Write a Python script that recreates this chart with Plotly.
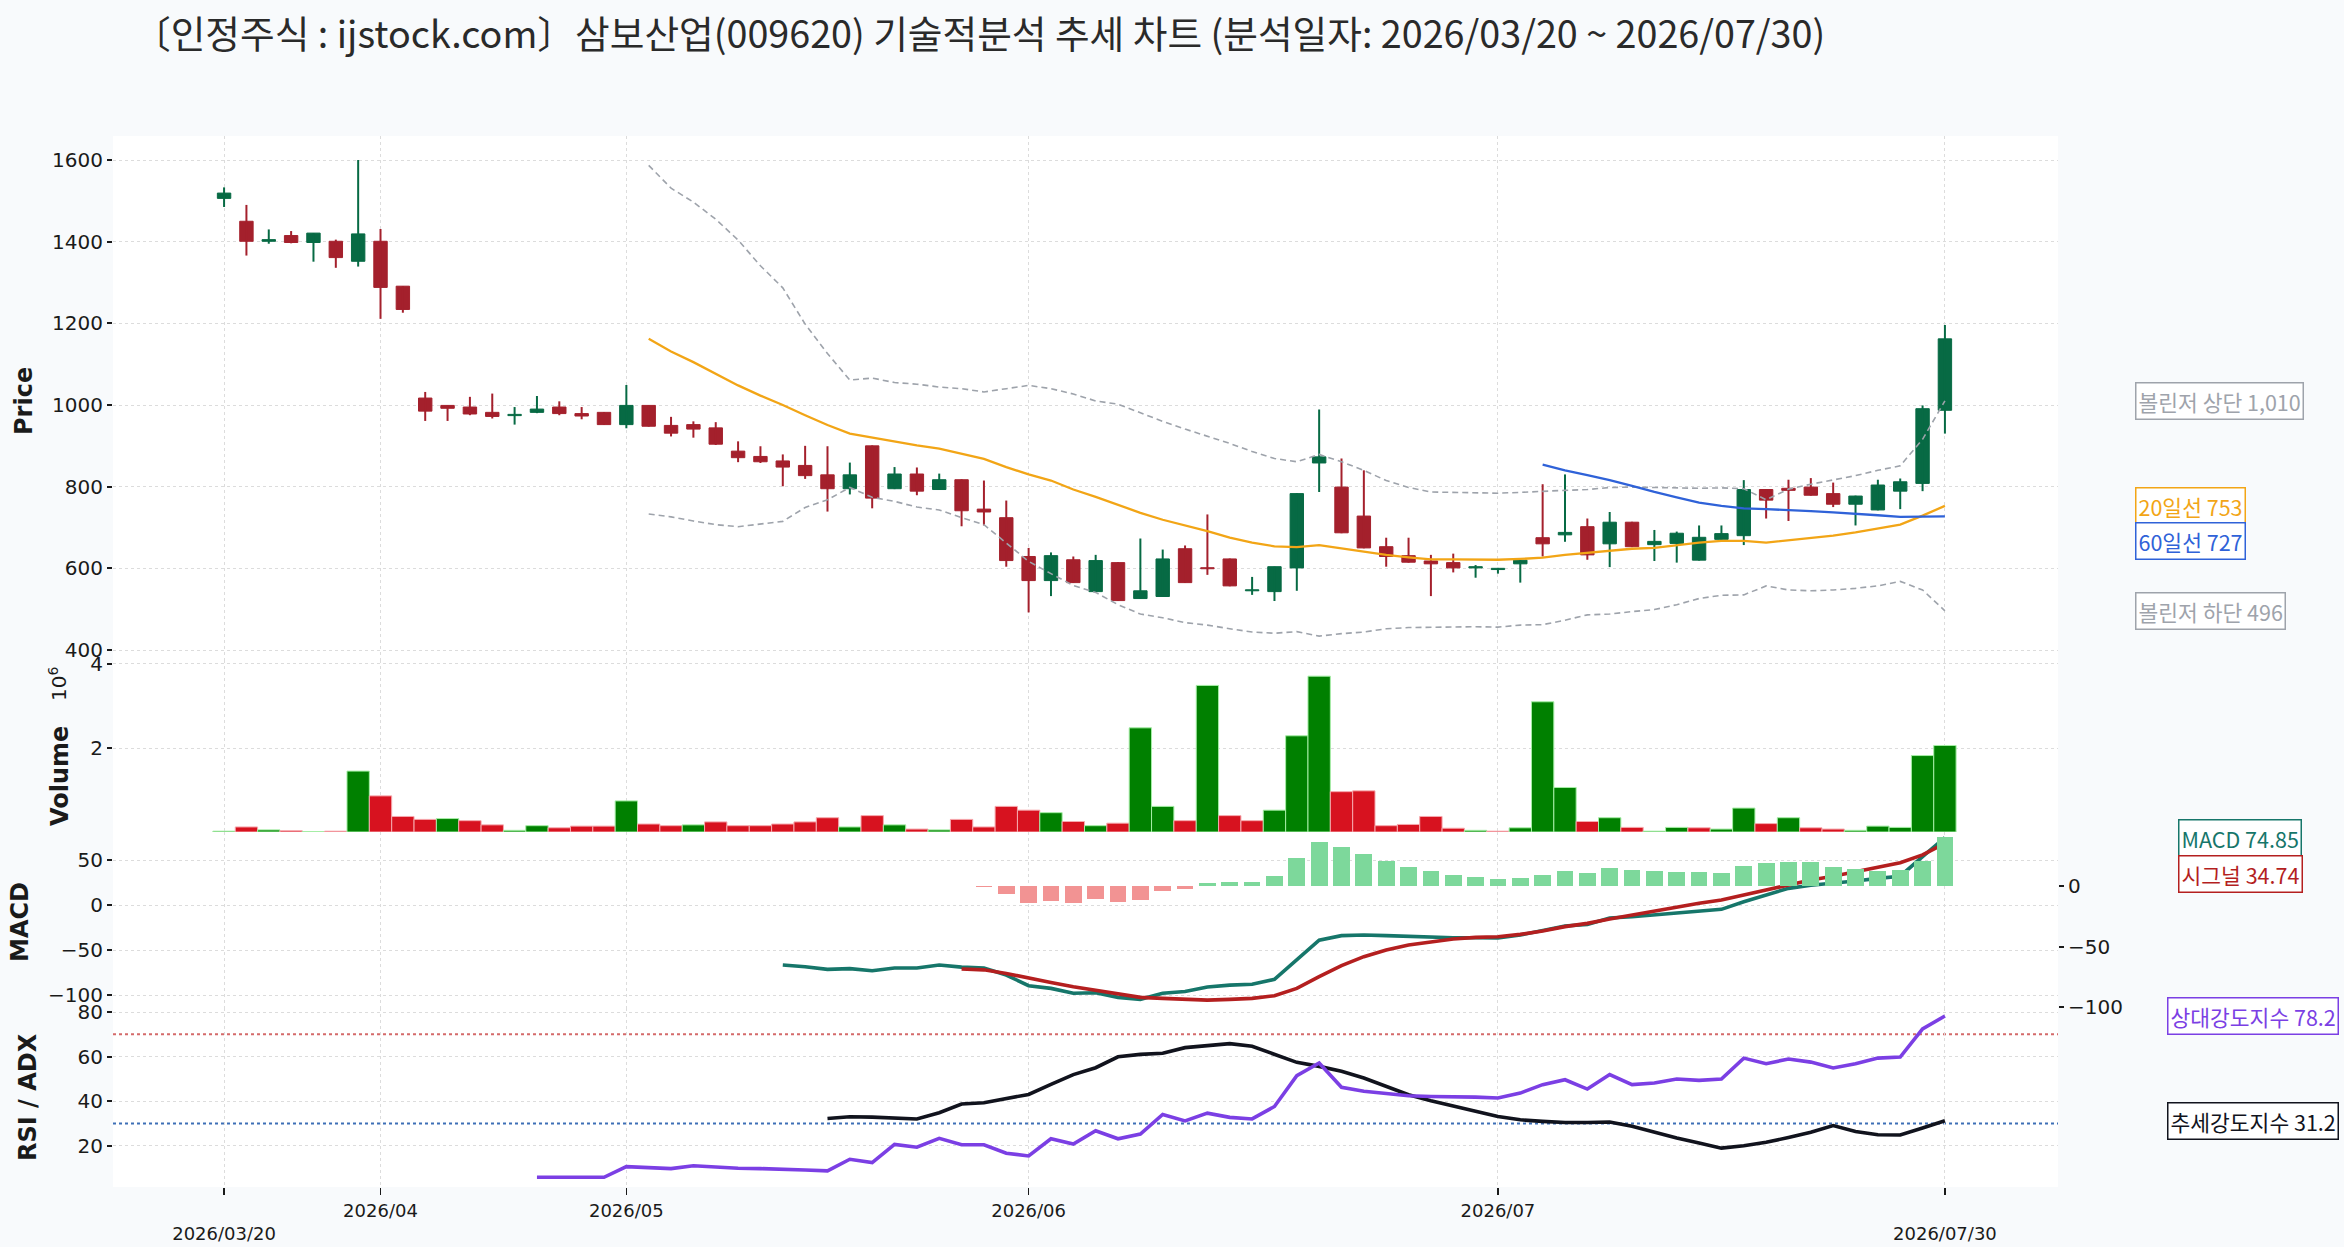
import plotly.graph_objects as go

W, H = 2344, 1247

TITLE = "〔인정주식 : ijstock.com〕삼보산업(009620) 기술적분석 추세 차트 (분석일자: 2026/03/20 ~ 2026/07/30)"

# ---- daily OHLC (trading-day index 0..77) ----
OPEN = [1506, 1450, 1401, 1415, 1398, 1401, 1352, 1401, 1291, 1017,
        999, 995, 982, 974, 982, 995, 979, 982, 952, 999,
        950, 952, 944, 887, 874, 863, 852, 829, 795, 900,
        795, 831, 793, 817, 745, 724, 629, 570, 621, 543,
        614, 526, 531, 648, 600, 623, 545, 543, 601, 858,
        799, 728, 653, 631, 618, 614, 601, 597, 611, 675,
        682, 702, 660, 713, 658, 661, 620, 671, 680, 793,
        796, 799, 783, 757, 743, 789, 808, 987]
HIGH = [1533, 1490, 1430, 1426, 1421, 1405, 1600, 1431, 1291, 1032,
        999, 1020, 1028, 995, 1022, 1009, 995, 983, 1049, 999,
        971, 960, 958, 911, 899, 879, 900, 899, 859, 901,
        848, 847, 832, 818, 815, 766, 650, 639, 629, 633,
        615, 673, 646, 656, 732, 624, 579, 604, 784, 989,
        869, 840, 675, 675, 633, 636, 608, 601, 621, 806,
        830, 722, 738, 714, 694, 690, 705, 705, 816, 794,
        817, 821, 810, 778, 817, 820, 999, 1196]
LOW = [1485, 1366, 1395, 1396, 1351, 1336, 1339, 1211, 1226, 961,
       961, 975, 967, 952, 980, 975, 965, 951, 943, 947,
       923, 920, 902, 860, 858, 801, 819, 739, 781, 747,
       794, 779, 792, 703, 705, 604, 492, 532, 564, 542,
       520, 525, 530, 564, 584, 556, 535, 520, 545, 787,
       686, 649, 604, 614, 532, 590, 577, 587, 565, 629,
       665, 621, 603, 652, 618, 614, 619, 670, 657, 722,
       716, 778, 750, 705, 742, 745, 789, 930]
CLOSE = [1519, 1401, 1405, 1398, 1421, 1361, 1419, 1288, 1234, 985,
         992, 978, 972, 977, 990, 979, 973, 952, 999, 948,
         931, 941, 904, 871, 861, 848, 827, 795, 829, 772,
         831, 789, 817, 741, 738, 619, 570, 631, 565, 619,
         521, 545, 623, 565, 599, 557, 546, 604, 783, 873,
         687, 650, 629, 615, 611, 601, 604, 600, 620, 660,
         688, 633, 713, 653, 666, 686, 676, 685, 793, 767,
         791, 779, 757, 777, 804, 812, 991, 1162]
VOLUME_M = [0.02, 0.12, 0.05, 0.03, 0.01, 0.02, 1.45, 0.86, 0.37, 0.30,
            0.32, 0.27, 0.17, 0.04, 0.15, 0.10, 0.14, 0.14, 0.74, 0.19,
            0.15, 0.17, 0.24, 0.15, 0.15, 0.19, 0.24, 0.34, 0.12, 0.39,
            0.17, 0.07, 0.05, 0.30, 0.12, 0.61, 0.52, 0.46, 0.25, 0.15,
            0.21, 2.48, 0.61, 0.27, 3.49, 0.39, 0.27, 0.52, 2.29, 3.71,
            0.96, 0.98, 0.15, 0.18, 0.37, 0.09, 0.04, 0.02, 0.10, 3.10,
            1.06, 0.25, 0.34, 0.11, 0.02, 0.11, 0.10, 0.07, 0.57, 0.20,
            0.34, 0.10, 0.07, 0.04, 0.14, 0.11, 1.82, 2.06]

# ---- indicators (each starts at its own index) ----
MA20_START = 19
MA20 = [1162, 1131, 1105, 1076, 1048, 1023, 1000, 975, 951, 930,
        920, 911, 901, 893, 880, 868, 848, 830, 815, 793,
        775, 756, 736, 719, 705, 691, 675, 663, 654, 652,
        657, 649, 641, 633, 627, 622, 622, 622, 621, 623,
        626, 633, 638, 643, 648, 650, 656, 663, 667, 667,
        663, 669, 674, 680, 688, 697, 707, 729, 753]
MA60_START = 59
MA60 = [854, 840, 828, 816, 802, 787, 774, 761, 753, 747,
        745, 743, 740, 737, 734, 730, 726, 727, 727]
BB_START = 19
BB_UPPER = [1587, 1531, 1497, 1455, 1404, 1341, 1287, 1198, 1126, 1061,
            1066, 1055, 1051, 1044, 1040, 1032, 1040, 1048, 1040, 1027,
            1010, 1002, 981, 960, 941, 924, 906, 886, 869, 861,
            879, 861, 840, 815, 798, 787, 786, 785, 784, 786,
            789, 791, 793, 798, 799, 798, 798, 796, 797, 795,
            768, 794, 806, 817, 827, 840, 851, 916, 1010]
BB_LOWER = [733, 726, 716, 707, 702, 709, 715, 749, 768, 798,
            774, 764, 750, 743, 724, 707, 663, 617, 587, 558,
            541, 511, 488, 479, 467, 461, 452, 444, 441, 445,
            434, 440, 444, 452, 455, 456, 456, 457, 456, 461,
            462, 473, 486, 488, 494, 499, 511, 526, 534, 535,
            557, 547, 545, 547, 551, 557, 568, 547, 496]

MACD_START = 25
MACD = [-66.7, -68.5, -71.5, -70.7, -73.0, -70.0, -70.0, -66.7, -69.0, -70.0,
        -77.8, -89.6, -92.6, -98.0, -97.4, -102.6, -104.8, -98.0, -96.0, -91.0,
        -89.0, -88.0, -82.6, -61.0, -39.0, -34.0, -33.3, -34.0, -35.0, -36.0,
        -36.3, -36.3, -36.7, -33.3, -28.5, -23.3, -21.5, -14.4, -13.0, -11.0,
        -8.5, -7.4, -4.8, 3.7, 11.0, 18.5, 22.0, 24.0, 26.7, 29.6,
        32.0, 53.7, 74.85]
SIGNAL_START = 33
SIGNAL = [-71.0, -72.0, -76.0, -81.5, -86.0, -90.7, -94.4, -98.0, -102.6, -103.7,
          -105.0, -105.6, -104.8, -103.7, -100.7, -92.6, -79.6, -67.4, -57.4, -50.0,
          -44.4, -40.7, -37.8, -36.0, -35.2, -32.6, -28.9, -24.0, -20.4, -15.6,
          -11.0, -6.7, -2.6, 1.9, 5.6, 11.0, 17.4, 22.0, 27.8, 32.0,
          37.0, 41.5, 47.0, 55.6, 68.5]
SIGNAL_LAST = 34.74
HIST_START = 34
HIST = [-0.8, -7.0, -14.0, -12.3, -14.0, -10.7, -13.1, -11.7, -4.1, -2.7,
        2.5, 3.0, 3.0, 7.9, 23.0, 36.6, 32.5, 26.8, 21.0, 16.1,
        12.0, 8.7, 7.1, 5.5, 6.3, 8.7, 12.0, 10.4, 14.5, 12.8,
        12.0, 11.7, 11.2, 10.4, 16.9, 18.6, 20.2, 19.7, 16.1, 13.7,
        12.6, 13.4, 21.0, 40.11]

RSI_START = 14
RSI = [5.8, 5.8, 5.8, 5.8, 10.6, 10.1, 9.7, 11.0, 10.3, 9.9,
       9.7, 9.6, 9.1, 8.7, 13.9, 12.4, 20.6, 19.3, 23.3, 20.4,
       20.4, 16.6, 15.4, 23.1, 20.7, 26.7, 23.1, 25.2, 34.0, 31.1,
       34.6, 32.7, 32.0, 37.6, 51.4, 57.1, 46.2, 44.4, 43.2, 42.4,
       42.1, 42.1, 41.8, 41.4, 43.6, 47.4, 49.6, 45.4, 51.9, 47.4,
       48.1, 49.9, 49.3, 49.9, 59.3, 56.8, 58.9, 57.5, 54.9, 56.8,
       59.3, 59.8, 72.4, 78.2]
ADX_START = 27
ADX = [32.2, 33.0, 32.8, 32.5, 32.0, 34.8, 38.7, 39.3, 41.2, 43.0,
       47.5, 51.9, 55.0, 59.9, 61.0, 61.5, 64.0, 64.9, 65.8, 64.6,
       61.1, 57.4, 55.6, 53.4, 50.4, 46.6, 42.9, 40.2, 37.6, 35.4,
       33.1, 31.6, 30.9, 30.4, 30.4, 30.6, 28.7, 26.0, 23.4, 21.2,
       18.9, 20.0, 21.5, 23.7, 26.0, 29.0, 26.4, 24.9, 24.8, 27.9,
       31.2]
RSI_LEVELS = [70, 30]

TICK_IDX = [0, 7, 18, 36, 57, 77]
TICK_TEXT = ["<br>2026/03/20", "2026/04", "2026/05", "2026/06", "2026/07", "<br>2026/07/30"]

# ---- styling ----
UP, DOWN = "#076a44", "#a4202c"
VOL_UP, VOL_DOWN = "#008000", "#d7121f"
VOL_UP_EDGE, VOL_DOWN_EDGE = "#a6eea6", "#f6a9ae"
C_MA20, C_MA60, C_BB = "#f2a516", "#2f62d8", "#9ea3ab"
C_MACD, C_SIG = "#16766a", "#b41f1f"
C_HIST_UP, C_HIST_DN = "#7dd89b", "#f29393"
C_RSI, C_ADX = "#7b3fe4", "#11131d"
C_LVL = ["#d46a6a", "#3d6fb6"]
GRID = "#dcdcdc"
TXT = "#1a1a1a"
TICKFONT = dict(family="DejaVu Sans", size=20, color=TXT)
KFONT = "Noto Sans CJK KR"

N = len(CLOSE)
IDX = list(range(N))
XR = [-4.97, 82.06]
XD = [113 / W, 2058 / W]


def ydom(top_px, bot_px):
    return [1 - bot_px / H, 1 - top_px / H]


def xs(start, vals):
    return list(range(start, start + len(vals)))


fig = go.Figure()

# ---- candles ----
up = [c > o for o, c in zip(OPEN, CLOSE)]
for flag, col in ((True, UP), (False, DOWN)):
    wx, wy = [], []
    for i in IDX:
        if up[i] == flag:
            wx += [i, i, None]
            wy += [LOW[i], HIGH[i], None]
    fig.add_trace(go.Scatter(x=wx, y=wy, mode="lines", line=dict(color=col, width=2),
                             xaxis="x", yaxis="y", hoverinfo="skip", showlegend=False))
body_base = [min(o, c) for o, c in zip(OPEN, CLOSE)]
body_h = [max(abs(c - o), 2.5) for o, c in zip(OPEN, CLOSE)]
body_col = [UP if u else DOWN for u in up]
fig.add_trace(go.Bar(x=IDX, y=body_h, base=body_base, width=0.6,
                     marker=dict(color=body_col, line=dict(color=body_col, width=1)),
                     xaxis="x", yaxis="y", hoverinfo="skip", showlegend=False))

# ---- price overlays ----
fig.add_trace(go.Scatter(x=xs(BB_START, BB_UPPER), y=BB_UPPER, mode="lines",
                         line=dict(color=C_BB, width=1.6, dash="6px,4px"), xaxis="x", yaxis="y",
                         showlegend=False, hoverinfo="skip"))
fig.add_trace(go.Scatter(x=xs(BB_START, BB_LOWER), y=BB_LOWER, mode="lines",
                         line=dict(color=C_BB, width=1.6, dash="6px,4px"), xaxis="x", yaxis="y",
                         showlegend=False, hoverinfo="skip"))
fig.add_trace(go.Scatter(x=xs(MA20_START, MA20), y=MA20, mode="lines",
                         line=dict(color=C_MA20, width=2.3), xaxis="x", yaxis="y",
                         showlegend=False, hoverinfo="skip"))
fig.add_trace(go.Scatter(x=xs(MA60_START, MA60), y=MA60, mode="lines",
                         line=dict(color=C_MA60, width=2.3), xaxis="x", yaxis="y",
                         showlegend=False, hoverinfo="skip"))

# ---- volume ----
vol_up = [True] + [CLOSE[i] >= CLOSE[i - 1] for i in range(1, N)]
fig.add_trace(go.Bar(x=IDX, y=[v * 1e6 for v in VOLUME_M], width=1.0,
                     marker=dict(color=[VOL_UP if u else VOL_DOWN for u in vol_up],
                                 line=dict(color=[VOL_UP_EDGE if u else VOL_DOWN_EDGE for u in vol_up],
                                           width=1)),
                     xaxis="x2", yaxis="y2", hoverinfo="skip", showlegend=False))

# ---- MACD ----
fig.add_trace(go.Bar(x=xs(HIST_START, HIST), y=HIST, width=0.75,
                     marker=dict(color=[C_HIST_UP if h >= 0 else C_HIST_DN for h in HIST], line=dict(width=0)),
                     xaxis="x3", yaxis="y5", hoverinfo="skip", showlegend=False))
fig.add_trace(go.Scatter(x=xs(MACD_START, MACD), y=MACD, mode="lines",
                         line=dict(color=C_MACD, width=3.6), xaxis="x3", yaxis="y3",
                         showlegend=False, hoverinfo="skip"))
fig.add_trace(go.Scatter(x=xs(SIGNAL_START, SIGNAL), y=SIGNAL, mode="lines",
                         line=dict(color=C_SIG, width=3.6), xaxis="x3", yaxis="y3",
                         showlegend=False, hoverinfo="skip"))

# ---- RSI / ADX ----
for lvl, col in zip(RSI_LEVELS, C_LVL):
    fig.add_shape(type="line", xref="x4 domain", x0=0, x1=1, yref="y4", y0=lvl, y1=lvl,
                  line=dict(color=col, width=2, dash="3px,3px"), layer="below")
fig.add_trace(go.Scatter(x=xs(ADX_START, ADX), y=ADX, mode="lines",
                         line=dict(color=C_ADX, width=3.6), xaxis="x4", yaxis="y4",
                         showlegend=False, hoverinfo="skip"))
fig.add_trace(go.Scatter(x=xs(RSI_START, RSI), y=RSI, mode="lines",
                         line=dict(color=C_RSI, width=3.6), xaxis="x4", yaxis="y4",
                         showlegend=False, hoverinfo="skip"))

# ---- axes ----
def xax(anchor, labels):
    d = dict(domain=XD, range=XR, anchor=anchor, tickmode="array", tickvals=TICK_IDX,
             showgrid=True, gridcolor=GRID, griddash="dot", gridwidth=1,
             zeroline=False, showline=False, automargin=False, fixedrange=True)
    if labels:
        d.update(ticktext=TICK_TEXT, showticklabels=True, ticks="outside", ticklen=7,
                 tickwidth=1.5, tickcolor=TXT,
                 tickfont=dict(family="DejaVu Sans", size=18, color=TXT))
    else:
        d.update(showticklabels=False, ticks="")
    if anchor != "y":
        d["matches"] = "x"
    return d


def yax(dom, rng, tv, tt, anchor, **kw):
    d = dict(domain=dom, range=rng, anchor=anchor, tickmode="array", tickvals=tv, ticktext=tt,
             showgrid=True, gridcolor=GRID, griddash="dot", gridwidth=1, zeroline=False,
             showline=False, ticks="outside", ticklen=5, tickwidth=2, tickcolor=TXT,
             tickfont=TICKFONT, automargin=False, fixedrange=True)
    d.update(kw)
    return d


def num(v):
    return str(v).replace("-", "\u2212")


PRICE_TICKS = [400, 600, 800, 1000, 1200, 1400, 1600]
VOL_TICKS = [2e6, 4e6]
MACD_TICKS = [-100, -50, 0, 50]
HIST_TICKS = [-100, -50, 0]
RSI_TICKS = [20, 40, 60, 80]

fig.update_layout(
    width=W, height=H,
    margin=dict(l=0, r=0, t=0, b=0, pad=0),
    paper_bgcolor="#f8fafc", plot_bgcolor="#ffffff",
    barmode="overlay", bargap=0, showlegend=False,
    xaxis=xax("y", False), xaxis2=xax("y2", False), xaxis3=xax("y3", False), xaxis4=xax("y4", True),
    yaxis=yax(ydom(136, 660), [375.5, 1658.8], PRICE_TICKS, [str(v) for v in PRICE_TICKS], "x"),
    yaxis2=yax(ydom(660, 832), [0, 4.095e6], VOL_TICKS, [str(int(v / 1e6)) for v in VOL_TICKS], "x2"),
    yaxis3=yax(ydom(832, 1008), [-114.4, 81.1], MACD_TICKS, [num(v) for v in MACD_TICKS], "x3"),
    yaxis5=yax(ydom(832, 1008), [-100.8, 44.6], HIST_TICKS, [num(v) for v in HIST_TICKS], "x3",
               overlaying="y3", side="right", showgrid=False),
    yaxis4=yax(ydom(1008, 1187), [1.45, 81.8], RSI_TICKS, [str(v) for v in RSI_TICKS], "x4"),
)

# ---- text ----
ann = []
ann.append(dict(text=TITLE, xref="paper", yref="paper", x=131 / W, y=1 - 31 / H,
                xanchor="left", yanchor="middle", showarrow=False,
                font=dict(family=KFONT, size=37.7, color="#2a2a2a")))

for txt, px, py in (("<b>Price</b>", 24, 401), ("<b>Volume</b>", 60, 776),
                    ("<b>MACD</b>", 20, 922), ("<b>RSI / ADX</b>", 28, 1097)):
    ann.append(dict(text=txt, xref="paper", yref="paper", x=px / W, y=1 - py / H,
                    xanchor="center", yanchor="middle", textangle=-90, showarrow=False,
                    font=dict(family="DejaVu Sans", size=24, color=TXT)))
ann.append(dict(text="10<sup>6</sup>", xref="paper", yref="paper", x=58 / W, y=1 - 684 / H,
                xanchor="center", yanchor="middle", textangle=-90, showarrow=False,
                font=dict(family="DejaVu Sans", size=20, color=TXT)))


def tag(text, color, xpx, yref, yval, yshift=0):
    return dict(text=text, xref="paper", x=xpx / W, yref=yref, y=yval, yshift=yshift,
                xanchor="left", yanchor="middle", showarrow=False,
                font=dict(family=KFONT, size=21.5, color=color),
                bordercolor=color, borderwidth=1.5, borderpad=2, bgcolor="#ffffff")


ann.append(tag(f"볼린저 상단 {BB_UPPER[-1]:,}", C_BB, 2135, "y", BB_UPPER[-1]))
ann.append(tag(f"20일선 {MA20[-1]:,}", C_MA20, 2135, "y", MA20[-1]))
ann.append(tag(f"60일선 {MA60[-1]:,}", C_MA60, 2135, "y", MA60[-1], yshift=-25))
ann.append(tag(f"볼린저 하단 {BB_LOWER[-1]:,}", C_BB, 2135, "y", BB_LOWER[-1]))
ann.append(tag(f"MACD {MACD[-1]:.2f}", C_MACD, 2178, "y3", MACD[-1]))
ann.append(tag(f"시그널 {SIGNAL_LAST:.2f}", C_SIG, 2178, "y3", SIGNAL_LAST))
ann.append(tag(f"상대강도지수 {RSI[-1]:.1f}", C_RSI, 2167, "y4", RSI[-1]))
ann.append(tag(f"추세강도지수 {ADX[-1]:.1f}", C_ADX, 2167, "y4", ADX[-1]))

fig.update_layout(annotations=ann)

fig.write_html("out.html", config={"displayModeBar": False, "staticPlot": True},
               post_script="document.body.style.margin='0';document.body.style.overflow='hidden';")
